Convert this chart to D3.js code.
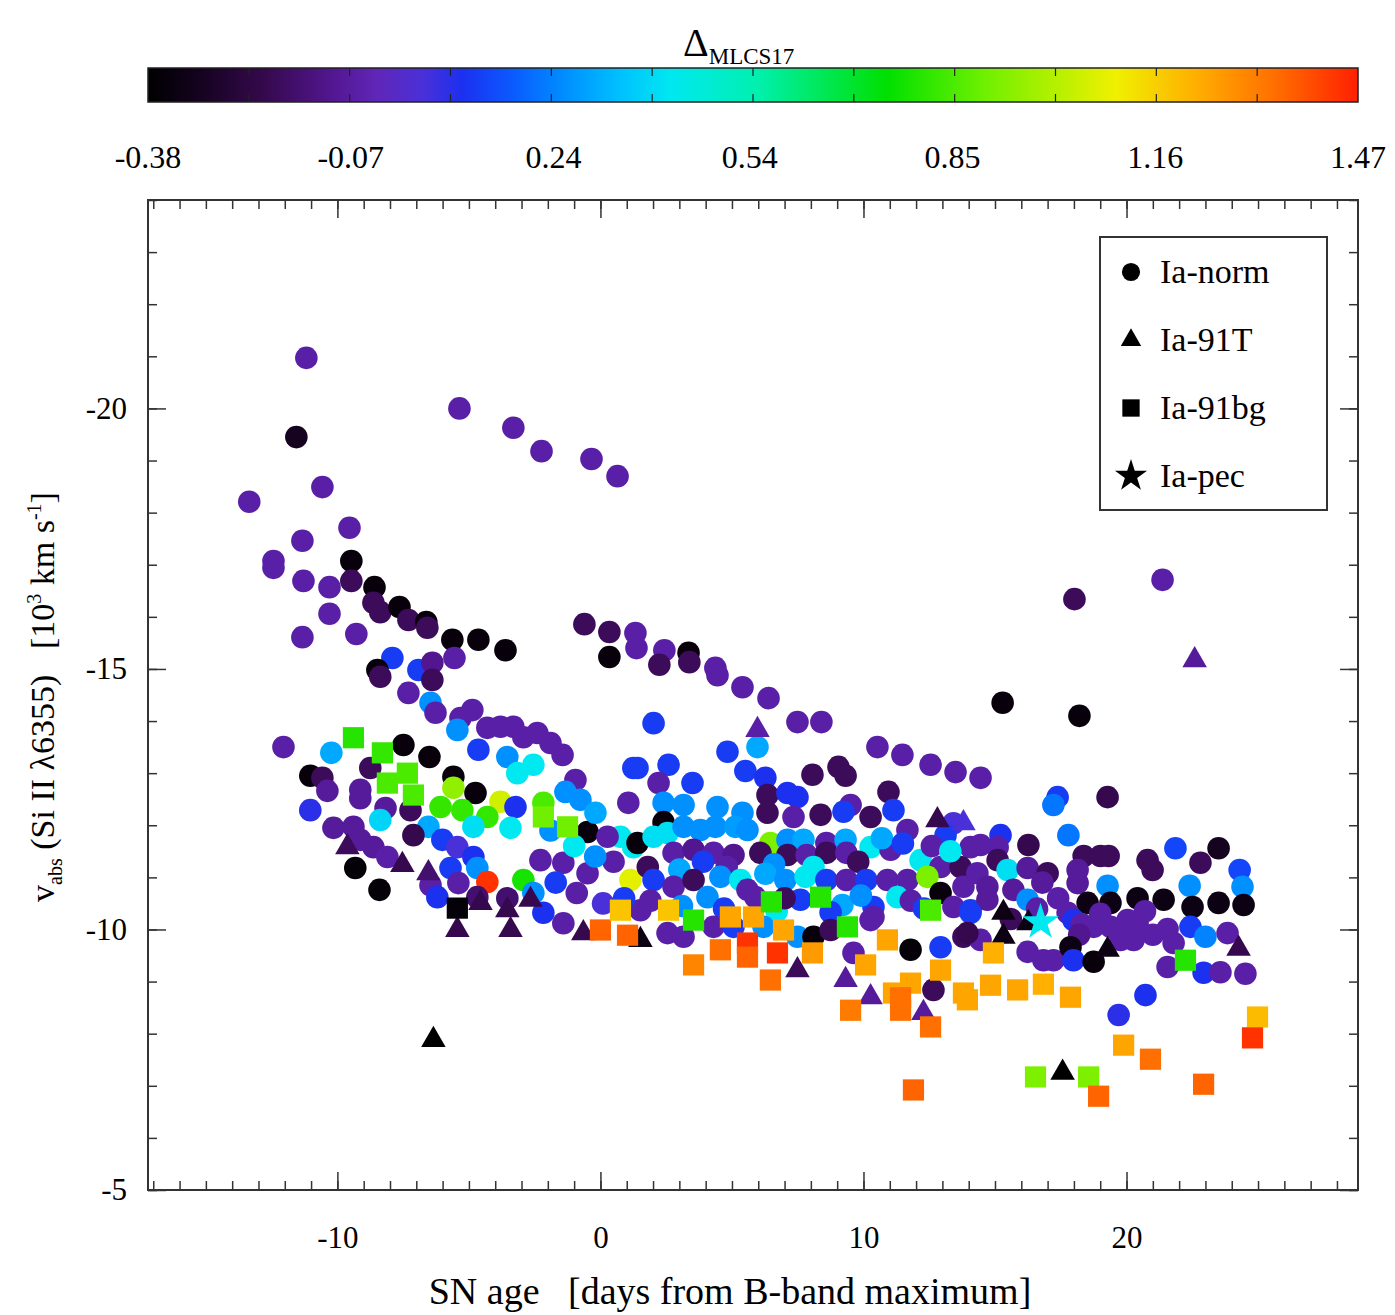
<!DOCTYPE html>
<html>
<head>
<meta charset="utf-8">
<script src="https://cdn.jsdelivr.net/npm/d3@7"></script>
<style>body { margin: 0; background: #fff; }</style>
</head>
<body>
<svg width="1395" height="1315"></svg>
<script>
// each point: [age (days), v_abs (10^3 km/s), delta_MLCS17]
const iaNorm = [
  [-11.18,-20.97,-0.06],[-5.36,-20.0,-0.06],[-3.31,-19.63,-0.06],[-2.24,-19.18,-0.06],[-0.34,-19.03,-0.06],
  [0.65,-18.70,-0.06],[-11.56,-19.45,-0.3],[-10.57,-18.49,-0.06],[-13.35,-18.21,-0.06],[-9.54,-17.71,-0.06],
  [-11.33,-17.46,-0.06],[-12.43,-17.07,-0.06],[-12.43,-16.94,-0.06],[-9.47,-17.07,-0.35],[-11.29,-16.69,-0.06],
  [-10.30,-16.57,-0.06],[-9.47,-16.69,-0.18],[-8.59,-16.57,-0.35],[-8.63,-16.27,-0.18],[-8.37,-16.09,-0.18],
  [-7.64,-16.19,-0.35],[-7.30,-15.94,-0.18],[-6.62,-15.90,-0.35],[-6.58,-15.79,-0.18],[-5.63,-15.56,-0.35],
  [-4.64,-15.56,-0.35],[-3.61,-15.36,-0.35],[-10.30,-16.06,-0.06],[-11.33,-15.61,-0.06],[-9.28,-15.67,-0.06],
  [-5.55,-15.21,-0.06],[-7.91,-15.21,0.12],[-8.48,-14.98,-0.35],[-8.37,-14.85,-0.18],[-6.92,-14.98,0.12],
  [-6.39,-15.12,-0.1],[-6.39,-14.79,-0.18],[-7.30,-14.54,-0.06],[-6.46,-14.35,0.26],[-6.27,-14.16,-0.06],
  [-4.87,-14.21,-0.06],[-5.32,-14.06,-0.06],[-0.61,-15.86,-0.18],[0.34,-15.71,-0.18],[0.34,-15.23,-0.35],
  [1.33,-15.69,-0.06],[1.37,-15.40,-0.06],[2.43,-15.36,-0.06],[2.24,-15.08,-0.18],[3.35,-15.31,-0.35],
  [3.38,-15.13,-0.18],[4.37,-15.02,-0.06],[4.45,-14.88,-0.06],[5.40,-14.65,-0.06],[6.39,-14.44,-0.06],
  [7.49,-13.98,-0.06],[8.40,-13.98,-0.06],[15.29,-14.35,-0.35],[18.21,-14.10,-0.35],[21.37,-16.71,-0.06],
  [18.02,-16.34,-0.18],
  [-4.30,-13.87,-0.06],[-3.80,-13.89,-0.06],[-3.31,-13.89,-0.06],[-2.93,-13.69,-0.06],[-2.40,-13.77,-0.06],
  [-1.90,-13.58,-0.06],[-1.44,-13.35,-0.06],[-3.54,-13.31,0.26],[-3.16,-13.00,0.42],[-2.55,-13.16,0.42],
  [-4.64,-13.45,0.12],[-5.44,-13.83,0.26],[-12.05,-13.50,-0.06],[-10.23,-13.39,0.3],[-11.03,-12.95,-0.35],
  [-10.57,-12.91,-0.18],[-10.38,-12.66,-0.08],[-11.03,-12.29,0.08],[-8.75,-13.10,-0.18],[-7.49,-13.54,-0.35],
  [-6.50,-13.31,-0.35],[-9.13,-12.68,-0.08],[-9.13,-12.52,-0.08],[-8.17,-12.33,-0.08],[-7.22,-12.29,-0.18],
  [-8.37,-12.10,0.38],[-5.59,-12.93,-0.35],[-5.59,-12.72,0.95],[-4.75,-12.62,-0.35],[-6.08,-12.35,0.82],
  [-5.25,-12.29,0.82],[-3.80,-12.45,1.05],[-4.30,-12.16,0.82],[-3.23,-12.35,0.1],[-6.54,-11.97,0.3],
  [-7.11,-11.81,-0.2],[-6.01,-11.72,0.12],[-4.83,-11.97,0.4],[-3.42,-11.95,0.42],[-2.17,-12.43,0.85],
  [-0.49,-11.87,-0.35],[-0.95,-12.87,-0.06],[-1.33,-12.64,0.26],[-0.76,-12.49,0.26],[-0.19,-12.24,0.3],
  [1.06,-12.43,-0.06],[1.25,-13.10,0.12],[-10.15,-11.95,-0.08],[-9.39,-11.97,-0.08],[-9.13,-11.72,-0.08],
  [-8.63,-11.58,-0.08],[-8.10,-11.39,-0.06],[-9.32,-11.18,-0.36],[-8.40,-10.76,-0.36],[-6.46,-10.85,-0.06],
  [-6.20,-10.62,0.1],[-5.44,-11.58,0.04],[-4.83,-11.39,0.1],[-4.68,-11.18,0.26],[-5.70,-11.18,0.12],
  [-5.40,-10.89,-0.06],[-4.30,-10.91,1.44],[-4.68,-10.62,-0.15],[-3.54,-10.60,-0.15],[-2.93,-10.95,0.78],
  [-2.55,-10.70,0.26],[-2.17,-10.32,0.1],[-1.41,-10.12,-0.06],[-2.28,-11.33,-0.06],[-1.41,-11.28,-0.06],
  [-0.49,-11.08,-0.06],[1.14,-10.95,1.08],[0.76,-11.78,0.42],[1.25,-11.58,0.42],[0.27,-11.78,-0.06],
  [2.02,-13.96,0.12],[5.97,-13.50,0.3],[4.83,-13.41,0.12],[10.53,-13.50,-0.06],[11.48,-13.35,-0.06],
  [12.55,-13.16,-0.06],[13.50,-13.02,-0.06],[14.45,-12.91,-0.06],[1.41,-13.10,0.12],[2.59,-13.16,0.12],
  [5.51,-13.04,0.12],[2.21,-12.81,-0.06],[3.50,-12.81,0.12],[6.27,-12.91,0.1],[8.06,-12.97,-0.18],
  [9.05,-13.12,-0.18],[9.32,-12.95,-0.18],[2.40,-12.43,0.26],[3.16,-12.39,0.26],[4.45,-12.35,0.26],
  [6.35,-12.58,-0.18],[7.11,-12.62,0.1],[7.49,-12.54,0.1],[10.95,-12.64,-0.18],[2.40,-12.06,-0.35],
  [5.40,-12.24,0.26],[6.35,-12.24,-0.18],[7.34,-12.16,-0.06],[8.37,-12.20,-0.18],[9.51,-12.39,-0.06],
  [9.24,-12.26,0.12],[10.27,-12.16,-0.18],[11.14,-12.29,0.12],[11.67,-11.91,-0.06],[13.42,-12.04,0.04],
  [13.12,-11.81,0.12],[14.07,-11.58,-0.06],
  [1.41,-11.66,-0.35],[2.02,-11.78,0.4],[2.55,-11.85,0.4],[3.16,-11.97,0.26],[3.80,-11.91,0.26],
  [4.37,-11.97,0.26],[5.13,-11.97,0.28],[5.59,-11.91,0.26],[6.46,-11.66,0.92],[7.11,-11.72,0.26],
  [7.72,-11.72,0.3],[8.59,-11.66,-0.06],[9.32,-11.72,0.3],[10.27,-11.58,0.42],[11.03,-11.53,-0.06],
  [12.17,-11.33,0.42],[12.93,-11.20,-0.06],[13.69,-11.20,-0.18],[2.78,-11.47,-0.06],[3.54,-11.53,-0.1],
  [4.30,-11.47,-0.06],[5.06,-11.43,-0.1],[6.08,-11.47,-0.18],[7.11,-11.43,-0.18],[7.84,-11.43,-0.06],
  [8.59,-11.47,-0.18],[9.35,-11.47,-0.06],
  [0.50,-11.30,-0.06],[1.80,-11.20,-0.18],[3.00,-11.15,0.3],[3.90,-11.30,0.12],[4.80,-11.20,-0.06],
  [6.60,-11.25,0.26],[8.10,-11.20,0.42],[9.80,-11.30,-0.18],[10.70,-11.75,0.3],[11.50,-11.65,0.12],
  [12.60,-11.60,-0.06],[13.30,-11.50,0.42],[-1.90,-11.90,0.26],[-1.00,-11.60,0.42],[-0.20,-11.40,0.26],
  [-1.70,-10.90,0.12],[-0.90,-10.70,-0.06],[0.10,-10.50,0.04],
  [2.02,-10.95,0.12],[2.78,-10.82,-0.06],[3.54,-10.95,-0.18],[4.56,-11.01,0.26],[5.32,-10.95,0.42],
  [5.59,-10.76,-0.06],[6.27,-11.07,0.3],[7.03,-10.95,0.26],[7.80,-11.01,0.42],[8.59,-10.95,0.12],
  [9.35,-10.95,-0.06],[10.11,-10.95,0.12],[10.91,-10.95,-0.06],[11.67,-10.95,-0.06],[12.43,-11.01,0.92],
  [12.93,-10.70,-0.35],[13.80,-10.82,-0.06],[11.29,-10.62,0.42],[10.38,-10.43,0.12],[10.38,-10.24,-0.06],
  [13.42,-10.43,-0.06],[14.07,-10.37,0.12],[1.52,-10.37,-0.06],[4.07,-10.62,0.26],[5.89,-10.62,-0.06],
  [7.60,-10.57,0.12],[9.20,-10.47,0.3],[8.75,-10.33,0.12],
  [0.90,-10.60,0.12],[1.90,-10.55,-0.06],[3.10,-10.45,0.26],[4.70,-10.40,0.12],[6.70,-10.35,0.42],
  [7.00,-10.60,-0.18],[9.90,-10.65,0.26],[11.80,-10.55,-0.06],[12.30,-10.40,0.12],
  [2.55,-9.93,-0.06],[3.16,-9.86,-0.06],[4.30,-10.05,-0.06],[5.06,-10.05,0.12],[6.20,-10.05,0.26],
  [7.49,-9.86,0.26],[8.10,-9.86,-0.35],[8.75,-9.99,-0.18],[10.27,-10.18,-0.06],[11.79,-9.61,-0.36],
  [12.93,-9.66,0.12],[13.80,-9.86,-0.18],[14.45,-9.80,-0.06],[9.62,-9.55,-0.06],[12.66,-8.84,-0.18],
  [17.38,-12.54,0.12],[17.22,-12.39,0.22],[19.28,-12.54,-0.2],[17.79,-11.81,0.22],[16.27,-11.62,-0.2],
  [15.21,-11.81,0.1],[14.45,-11.62,-0.06],[15.10,-11.58,-0.06],[18.37,-11.41,-0.18],[19.01,-11.41,-0.18],
  [19.32,-11.41,-0.18],[20.80,-11.33,-0.18],[20.99,-11.14,-0.18],[21.86,-11.56,0.14],[22.81,-11.28,-0.18],
  [23.50,-11.56,-0.3],[24.30,-11.14,0.14],[24.41,-10.82,0.26],[19.28,-10.84,0.26],[22.40,-10.84,0.26],
  [18.14,-11.14,-0.08],[18.14,-10.89,-0.08],[15.10,-11.33,-0.18],[15.48,-11.14,0.4],[16.24,-11.18,-0.08],
  [17.00,-11.08,-0.18],[14.33,-11.08,-0.06],[14.71,-10.82,-0.08],[14.71,-10.57,-0.08],[15.70,-10.76,-0.08],
  [16.24,-10.57,0.26],[16.80,-10.90,-0.08],[17.40,-10.60,-0.06],[16.60,-10.40,-0.06],[15.60,-10.20,-0.18],
  [18.52,-10.51,-0.33],[19.39,-10.51,-0.33],[20.42,-10.60,-0.33],[21.41,-10.57,-0.33],
  [22.51,-10.43,-0.33],[23.50,-10.51,-0.33],[24.45,-10.47,-0.33],[14.07,-10.32,0.12],[13.95,-9.93,-0.2],
  [17.76,-10.32,-0.06],[17.98,-10.18,0.1],[18.30,-10.10,-0.06],[18.75,-10.05,-0.06],[19.39,-10.05,-0.06],
  [19.00,-10.30,-0.06],[20.70,-10.35,-0.06],[21.00,-9.90,-0.06],[18.20,-9.90,-0.1],
  [20.04,-10.18,-0.06],[20.42,-10.12,-0.06],[19.77,-9.80,-0.06],[20.27,-9.80,-0.06],[21.56,-10.01,-0.06],
  [22.43,-10.05,0.12],[23.00,-9.86,0.24],[23.84,-9.93,-0.06],[21.79,-9.74,-0.06],[16.24,-9.57,-0.06],
  [16.84,-9.41,-0.06],[17.22,-9.41,-0.06],[17.87,-9.66,-0.33],[17.98,-9.41,0.1],[18.75,-9.38,-0.35],
  [21.56,-9.28,-0.06],[22.93,-9.17,0.1],[23.57,-9.18,-0.06],[24.52,-9.15,-0.06],[20.72,-8.74,0.1],
  [19.70,-8.36,0.08]
]

const ia91T = [
  [-9.62,-11.58,-0.18],[-7.53,-11.24,-0.2],[-6.54,-11.08,-0.15],[-5.44,-9.99,-0.2],[-4.56,-10.51,-0.2],
  [-3.54,-10.37,-0.2],[-3.42,-9.99,-0.2],[-2.66,-10.57,-0.2],[-0.65,-9.93,-0.2],[-6.35,-7.88,-0.38],
  [1.52,-9.80,-0.33],[5.97,-13.83,-0.06],[7.49,-9.22,-0.18],[9.32,-9.03,-0.08],[10.27,-8.70,-0.08],
  [12.28,-8.40,-0.08],[12.81,-12.10,-0.2],[13.80,-12.04,0.04],[15.32,-10.32,-0.33],[16.27,-10.12,-0.33],
  [15.32,-9.86,-0.33],[19.28,-9.61,-0.33],[24.26,-9.63,-0.2],[17.57,-7.25,-0.38],[22.59,-15.17,-0.08]
]

const ia91bg = [
  [-9.39,-13.68,0.8],[-8.29,-13.39,0.82],[-7.34,-13.00,0.85],[-8.10,-12.81,0.85],[-7.11,-12.58,0.85],
  [-2.17,-12.16,0.9],[-1.25,-11.97,0.9],[-5.44,-10.41,-0.36],[0.0,-9.99,1.36],[0.76,-10.37,1.18],
  [1.03,-9.89,1.36],[2.59,-10.37,1.18],[3.54,-10.18,0.8],[4.94,-10.24,1.24],[5.82,-10.24,1.24],
  [6.50,-10.53,0.8],[8.37,-10.62,0.8],[9.39,-10.05,0.8],[12.55,-10.37,0.85],[6.96,-9.99,1.24],
  [10.91,-9.80,1.24],[3.54,-9.32,1.3],[4.56,-9.61,1.34],[5.59,-9.74,1.44],[5.59,-9.47,1.36],
  [6.73,-9.55,1.44],[6.46,-9.03,1.34],[8.06,-9.55,1.26],[10.08,-9.32,1.24],[11.14,-8.78,1.24],
  [11.79,-8.97,1.24],[12.93,-9.22,1.24],[13.80,-8.78,1.24],[9.51,-8.45,1.32],[11.41,-8.69,1.34],
  [11.41,-8.45,1.34],[12.55,-8.13,1.34],[11.90,-6.92,1.36],[14.94,-9.55,1.22],[14.83,-8.93,1.24],
  [13.95,-8.65,1.24],[15.86,-8.84,1.24],[16.84,-8.95,1.22],[17.87,-8.70,1.24],[16.54,-7.17,0.92],
  [18.56,-7.17,0.92],[18.94,-6.80,1.36],[19.89,-7.78,1.24],[20.91,-7.51,1.34],[22.93,-7.03,1.36],
  [24.98,-8.32,1.2],[24.79,-7.92,1.44],[22.24,-9.41,0.8]
]

const iaPec = [[16.73,-10.14,0.42]]

const ageRange = [-17.2, 28.8]
const velRange = [-24, -5]
const xMajor = [-10, 0, 10, 20]
const xMinor = d3.range(-17, 29)
const yMajor = [-20, -15, -10, -5]
const yMinor = d3.range(-24, -4)
const cbTicks = [-0.38, -0.07, 0.24, 0.54, 0.85, 1.16, 1.47]
const cmapStops = [-0.38, -0.30, -0.20, -0.10, -0.03, 0.04, 0.10, 0.18, 0.26, 0.34, 0.42, 0.55, 0.75, 0.90, 1.10, 1.22, 1.34, 1.47]
const cmapColors = ['#000000', '#150320', '#36094e', '#521690', '#6026b8', '#4a30d8', '#1c30f0', '#0a5cff',
  '#0090ff', '#00c0ff', '#00e8f0', '#00f0b0', '#00e000', '#70f000', '#f0f000', '#ffb000', '#ff7000', '#ff2000']

const svg = d3.select('svg')
const serif = "'Liberation Serif', 'Times New Roman', serif"
const plot = { left: 148, right: 1358, top: 200, bottom: 1190 }
const bar = { left: 148, right: 1358, top: 68, bottom: 102 }

const x = d3.scaleLinear().domain(ageRange).range([plot.left, plot.right])
const y = d3.scaleLinear().domain(velRange).range([plot.top, plot.bottom])
const color = d3.scaleLinear().domain(cmapStops).range(cmapColors).clamp(true)
const cb = d3.scaleLinear().domain([cbTicks[0], cbTicks[6]]).range([bar.left, bar.right])

// ---- colour bar ----
const grad = svg.append('defs').append('linearGradient').attr('id', 'cmap')
grad.selectAll('stop').data(cmapStops).enter().append('stop')
  .attr('offset', d => (d - cbTicks[0]) / (cbTicks[6] - cbTicks[0]))
  .attr('stop-color', (d, i) => cmapColors[i])

svg.append('rect')
  .attr('x', bar.left).attr('y', bar.top)
  .attr('width', bar.right - bar.left).attr('height', bar.bottom - bar.top)
  .attr('fill', 'url(#cmap)').attr('stroke', '#222').attr('stroke-width', 1.5)

const barTicks = d3.range(13).map(i => cbTicks[0] + i * (cbTicks[6] - cbTicks[0]) / 12)
svg.append('g').selectAll('line').data(barTicks.slice(1, -1)).enter().append('line')
  .attr('x1', d => cb(d)).attr('x2', d => cb(d))
  .attr('y1', bar.bottom).attr('y2', bar.bottom - 8)
  .attr('stroke', '#222').attr('stroke-width', 1.2)
svg.append('g').selectAll('line').data(barTicks.slice(1, -1)).enter().append('line')
  .attr('x1', d => cb(d)).attr('x2', d => cb(d))
  .attr('y1', bar.top).attr('y2', bar.top + 8)
  .attr('stroke', '#222').attr('stroke-width', 1.2)

svg.append('g').selectAll('text').data(cbTicks).enter().append('text')
  .attr('x', d => cb(d)).attr('y', 168)
  .attr('text-anchor', 'middle')
  .style('font-family', serif).style('font-size', '32px')
  .text(d => d.toFixed(2))

const title = svg.append('text')
  .attr('x', 683).attr('y', 56)
  .style('font-family', serif).style('font-size', '40px')
title.append('tspan').text('Δ')
title.append('tspan').attr('dy', 8).style('font-size', '23px').text('MLCS17')

// ---- axes ----
const styleAxis = g => {
  g.select('.domain').remove()
  g.selectAll('line').attr('stroke', '#333').attr('stroke-width', 1.5)
  g.selectAll('text').style('font-family', serif).style('font-size', '31px').attr('fill', '#000')
}
const fmt = d => String(d)

svg.append('g').attr('transform', `translate(0,${plot.bottom})`)
  .call(d3.axisBottom(x).tickValues(xMinor).tickSize(-9).tickFormat('')).call(styleAxis)
svg.append('g').attr('transform', `translate(0,${plot.bottom})`)
  .call(d3.axisBottom(x).tickValues(xMajor).tickSize(-18).tickPadding(36).tickFormat(fmt)).call(styleAxis)
svg.append('g').attr('transform', `translate(0,${plot.top})`)
  .call(d3.axisTop(x).tickValues(xMinor).tickSize(-9).tickFormat('')).call(styleAxis)
svg.append('g').attr('transform', `translate(0,${plot.top})`)
  .call(d3.axisTop(x).tickValues(xMajor).tickSize(-18).tickFormat('')).call(styleAxis)

svg.append('g').attr('transform', `translate(${plot.left},0)`)
  .call(d3.axisLeft(y).tickValues(yMinor).tickSize(-9).tickFormat('')).call(styleAxis)
svg.append('g').attr('transform', `translate(${plot.left},0)`)
  .call(d3.axisLeft(y).tickValues(yMajor).tickSize(-18).tickPadding(21).tickFormat(fmt)).call(styleAxis)
svg.append('g').attr('transform', `translate(${plot.right},0)`)
  .call(d3.axisRight(y).tickValues(yMinor).tickSize(-9).tickFormat('')).call(styleAxis)
svg.append('g').attr('transform', `translate(${plot.right},0)`)
  .call(d3.axisRight(y).tickValues(yMajor).tickSize(-18).tickFormat('')).call(styleAxis)

svg.append('rect')
  .attr('x', plot.left).attr('y', plot.top)
  .attr('width', plot.right - plot.left).attr('height', plot.bottom - plot.top)
  .attr('fill', 'none').attr('stroke', '#333').attr('stroke-width', 2)

// axis titles
svg.append('text')
  .attr('x', 730).attr('y', 1304)
  .attr('text-anchor', 'middle').attr('xml:space', 'preserve')
  .style('font-family', serif).style('font-size', '38px')
  .text('SN age   [days from B-band maximum]')

const yt = svg.append('text')
  .attr('transform', 'translate(54,697) rotate(-90)')
  .attr('text-anchor', 'middle').attr('xml:space', 'preserve')
  .style('font-family', serif).style('font-size', '34px')
yt.append('tspan').text('v')
yt.append('tspan').attr('dy', 8).style('font-size', '20px').text('abs')
yt.append('tspan').attr('dy', -8).text(' (Si II λ6355)   [10')
yt.append('tspan').attr('dy', -13).style('font-size', '20px').text('3')
yt.append('tspan').attr('dy', 13).text(' km s')
yt.append('tspan').attr('dy', -13).style('font-size', '20px').text('-1')
yt.append('tspan').attr('dy', 13).text(']')

// ---- points ----
const pts = svg.append('g')
pts.selectAll('circle').data(iaNorm).enter().append('circle')
  .attr('cx', d => x(d[0])).attr('cy', d => y(d[1])).attr('r', 11.3)
  .attr('fill', d => color(d[2]))

const sym = (type, size) => d3.symbol().type(type).size(size)
pts.selectAll('path.tri').data(ia91T).enter().append('path').attr('class', 'tri')
  .attr('transform', d => `translate(${x(d[0])},${y(d[1])})`)
  .attr('d', sym(d3.symbolTriangle, 260)).attr('fill', d => color(d[2]))
pts.selectAll('path.sq').data(ia91bg).enter().append('path').attr('class', 'sq')
  .attr('transform', d => `translate(${x(d[0])},${y(d[1])})`)
  .attr('d', sym(d3.symbolSquare, 450)).attr('fill', d => color(d[2]))
pts.selectAll('path.star').data(iaPec).enter().append('path').attr('class', 'star')
  .attr('transform', d => `translate(${x(d[0])},${y(d[1])})`)
  .attr('d', sym(d3.symbolStar, 420)).attr('fill', d => color(d[2]))

// ---- legend ----
const legendItems = [
  { label: 'Ia-norm', type: d3.symbolCircle, size: 260 },
  { label: 'Ia-91T', type: d3.symbolTriangle, size: 180 },
  { label: 'Ia-91bg', type: d3.symbolSquare, size: 300 },
  { label: 'Ia-pec', type: d3.symbolStar, size: 320 }
]
const lg = svg.append('g')
lg.append('rect').attr('x', 1100).attr('y', 237).attr('width', 227).attr('height', 273)
  .attr('fill', '#fff').attr('stroke', '#333').attr('stroke-width', 2)
const li = lg.selectAll('g.item').data(legendItems).enter().append('g')
  .attr('transform', (d, i) => `translate(1131,${272 + i * 68})`)
li.append('path').attr('d', d => d3.symbol().type(d.type).size(d.size)()).attr('fill', '#000')
li.append('text').attr('x', 29).attr('y', 11)
  .style('font-family', serif).style('font-size', '34px')
  .text(d => d.label)
</script>
</body>
</html>
